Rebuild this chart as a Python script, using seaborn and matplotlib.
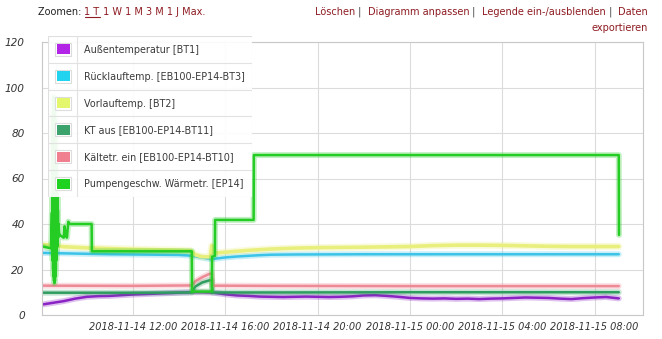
import numpy as np
import pandas as pd
import seaborn as sns
import matplotlib
matplotlib.use("Agg")
import matplotlib.pyplot as plt
import matplotlib.dates as mdates
import matplotlib.patheffects as pe
from matplotlib.patches import Rectangle

# ---------------- data (hours since 2018-11-14 00:00) ----------------
series_names = ["Außentemperatur [BT1]", "Rücklauftemp. [EB100-EP14-BT3]", "Vorlauftemp. [BT2]",
                "KT aus [EB100-EP14-BT11]", "Kältetr. ein [EB100-EP14-BT10]",
                "Pumpengeschw. Wärmetr. [EP14]"]

aussen_h = [8.06, 8.5, 9.0, 9.5, 10.0, 10.5, 11.0, 11.5, 12.0, 12.5, 13.0, 13.5, 14.0, 14.5, 15.0,
            15.5, 16.0, 16.5, 17.0, 17.5, 18.0, 18.5, 19.0, 19.5, 20.0, 20.5, 21.0, 21.5, 22.0,
            22.5, 23.0, 23.5, 24.0, 24.5, 25.0, 25.5, 26.0, 26.5, 27.0, 27.5, 28.0, 28.5, 29.0,
            29.5, 30.0, 30.5, 31.0, 31.5, 32.0, 32.5, 33.05]
aussen_v = [4.6, 5.3, 6.1, 7.2, 8.0, 8.3, 8.4, 8.7, 9.0, 9.2, 9.4, 9.6, 9.8, 10.0, 10.0,
            9.8, 9.1, 8.6, 8.4, 8.1, 8.0, 7.9, 8.0, 8.1, 8.0, 7.9, 8.0, 8.2, 8.6,
            8.7, 8.4, 8.0, 7.5, 7.3, 7.2, 7.3, 7.1, 7.2, 7.0, 7.2, 7.3, 7.5, 7.7,
            7.6, 7.5, 7.2, 7.0, 7.4, 7.7, 7.9, 7.3]

rueck_h = [8.06, 9.0, 10.0, 11.0, 12.0, 13.0, 14.0, 14.5, 15.0, 15.4, 15.6, 16.0, 16.5, 17.0,
           17.5, 18.0, 19.0, 22.0, 26.0, 30.0, 33.05]
rueck_v = [27.3, 27.1, 26.9, 26.7, 26.6, 26.5, 26.4, 26.1, 25.2, 24.5, 24.8, 25.3, 25.7, 26.0,
           26.3, 26.5, 26.6, 26.7, 26.7, 26.7, 26.7]

vorlauf_h = [8.06, 8.5, 9.0, 10.0, 11.0, 12.0, 13.0, 14.0, 14.5, 14.7, 15.0, 15.35, 15.42, 15.5,
             16.0, 16.5, 17.0, 18.0, 19.0, 20.0, 22.0, 24.0, 25.0, 26.0, 27.0, 28.0, 29.0,
             30.0, 31.0, 32.0, 33.05]
vorlauf_v = [31.0, 30.6, 30.0, 29.5, 29.2, 28.9, 28.7, 28.5, 28.3, 26.5, 25.6, 25.6, 30.5, 27.2,
             27.6, 28.0, 28.4, 29.0, 29.4, 29.6, 29.8, 30.1, 30.5, 30.7, 30.7, 30.6, 30.4,
             30.2, 30.1, 30.1, 30.1]

kt_h = [8.06, 12.0, 14.55, 14.7, 15.0, 15.3, 15.42, 15.45, 18.0, 24.0, 33.05]
kt_v = [9.8, 9.8, 9.9, 12.5, 14.3, 15.2, 15.3, 9.9, 9.9, 10.0, 10.0]

kaelte_h = [8.06, 12.0, 14.55, 14.7, 15.0, 15.3, 15.42, 15.45, 18.0, 24.0, 33.05]
kaelte_v = [12.9, 12.8, 13.0, 14.8, 16.6, 18.0, 18.3, 12.9, 12.8, 12.7, 12.7]

pump_h = [8.06, 8.45, 8.49, 8.50, 8.51, 8.52, 8.53, 8.54, 8.55, 8.56, 8.57, 8.58, 8.59, 8.60,
          8.61, 8.62, 8.63, 8.64, 8.65, 8.66, 8.67, 8.68, 8.69, 8.70, 8.71, 8.72, 8.73, 8.74,
          8.75, 8.76, 8.78, 8.80, 8.85, 9.00, 9.04, 9.08, 9.14, 9.20, 9.26, 10.21, 10.22, 14.55,
          14.56, 15.42, 15.43, 15.55, 15.56, 17.23, 17.24, 33.05, 33.06]
pump_v = [30.2, 29.3, 45.0, 28.0, 70.0, 24.0, 88.0, 20.0, 95.0, 17.0, 96.0, 15.0, 94.0, 14.0,
          90.0, 15.0, 86.0, 17.0, 80.0, 20.0, 72.0, 24.0, 64.0, 28.0, 58.0, 30.0, 52.0, 32.0,
          46.0, 34.0, 40.0, 36.0, 35.0, 34.0, 39.0, 35.0, 34.0, 41.0, 40.0, 40.0, 28.0, 28.0,
          10.3, 10.3, 25.6, 26.0, 41.8, 41.8, 70.3, 70.3, 35.2]

series_h = [aussen_h, rueck_h, vorlauf_h, kt_h, kaelte_h, pump_h]
series_v = [aussen_v, rueck_v, vorlauf_v, kt_v, kaelte_v, pump_v]

line_colors = ["#8a22c4", "#3cc4e8", "#e9ef7c", "#2f9d60", "#ee8a96", "#24cc24"]
swatch_colors = ["#b224e6", "#22d3f0", "#e4f66c", "#3ca36c", "#f0808f", "#1fd21f"]

y_ticks = [0, 20, 40, 60, 80, 100, 120]
x_tick_labels = ["2018-11-14 12:00", "2018-11-14 16:00", "2018-11-14 20:00",
                 "2018-11-15 00:00", "2018-11-15 04:00", "2018-11-15 08:00"]

base = pd.Timestamp("2018-11-14 00:00")
frames = []
for name, hh, vv in zip(series_names, series_h, series_v):
    frames.append(pd.DataFrame({"time": base + pd.to_timedelta(hh, unit="h"),
                                "value": vv, "series": name}))

# ---------------- figure ----------------
sns.set_style("white")
plt.rcParams["font.family"] = ["DejaVu Sans"]

W, H = 662, 339
fig = plt.figure(figsize=(W / 100, H / 100), dpi=100)
ax = fig.add_axes([42 / W, 1 - 315 / H, (643 - 42) / W, (315 - 42) / H])

for df, col in zip(frames, line_colors):
    lw = 2.6 if col == "#e9ef7c" else 1.8
    sns.lineplot(data=df, x="time", y="value", ax=ax, color=col, linewidth=lw,
                 estimator=None, sort=False, legend=False,
                 path_effects=[pe.Stroke(linewidth=lw + 2.5, foreground=col, alpha=0.28), pe.Normal()])

ax.set_ylim(0, 120)
ax.set_xlim(base + pd.Timedelta(hours=8.06), base + pd.Timedelta(hours=34.1))
ax.set_yticks(y_ticks)
ax.set_yticklabels([str(t) for t in y_ticks], fontstyle="italic", fontsize=7.6, color="#333333")
xt = [pd.Timestamp(s) for s in x_tick_labels]
ax.set_xticks(xt)
ax.set_xticklabels(x_tick_labels, fontstyle="italic", fontsize=7, color="#333333")
ax.tick_params(axis="y", length=0, pad=12.5)
ax.tick_params(axis="x", length=0, pad=5)
ax.set_xlabel("")
ax.set_ylabel("")
ax.grid(True, color="#dcdcdc", linewidth=0.8)
ax.set_axisbelow(True)
for s in ax.spines.values():
    s.set_color("#c8c8c8")
    s.set_linewidth(0.8)

# ---------------- legend box (figure coordinates, pixels) ----------------
lx0, lx1, ly0, ly1 = 48, 252, 36, 197
lax = fig.add_axes([lx0 / W, 1 - ly1 / H, (lx1 - lx0) / W, (ly1 - ly0) / H])
lax.set_xlim(0, lx1 - lx0)
lax.set_ylim(ly1 - ly0, 0)
lax.axis("off")
lw_ = lx1 - lx0
lh_ = ly1 - ly0
lax.add_patch(Rectangle((0, 0), lw_, lh_, facecolor="white", alpha=0.93, edgecolor="#dddddd", linewidth=0.8))
row_h = lh_ / len(series_names)
lax.plot([29, 29], [0, lh_], color="#e2e2e2", linewidth=0.8)
for i, (name, sc) in enumerate(zip(series_names, swatch_colors)):
    y0 = i * row_h
    if i > 0:
        lax.plot([0, lw_], [y0, y0], color="#e2e2e2", linewidth=0.8)
    lax.add_patch(Rectangle((7, y0 + row_h / 2 - 6.5), 16, 13, facecolor="white", edgecolor="#dddddd", linewidth=0.8))
    lax.add_patch(Rectangle((8.5, y0 + row_h / 2 - 5), 13, 10, facecolor=sc, edgecolor="none"))
    lax.text(36, y0 + row_h / 2 + 0.5, name, fontsize=6.9, color="#3a3a3a", va="center", ha="left")

# ---------------- header links ----------------
link = "#8e1b22"
fig.canvas.draw()
renderer = fig.canvas.get_renderer()

def put_seq(pieces, x_px, y_px, fs=7.0, align="left", underline_idx=None):
    texts = []
    for s, c in pieces:
        t = fig.text(0, 0, s, fontsize=fs, color=c, va="center", ha="left")
        texts.append(t)
    widths = [t.get_window_extent(renderer).width for t in texts]
    total = sum(widths)
    x = x_px if align == "left" else x_px - total
    for i, (t, w) in enumerate(zip(texts, widths)):
        t.set_position((x / W, 1 - y_px / H))
        if underline_idx is not None and i == underline_idx:
            fig.add_artist(plt.Line2D([x / W, (x + w) / W], [1 - (y_px + 5) / H] * 2,
                                      color=t.get_color(), linewidth=0.8))
        x += w

put_seq([("Zoomen: ", "#222222"), ("1 T", link), (" 1 W 1 M 3 M 1 J Max.", link)], 38, 12,
        underline_idx=1)
put_seq([("Löschen", link), (" |  ", "#333333"), ("Diagramm anpassen", link), (" |  ", "#333333"),
         ("Legende ein-/ausblenden", link), (" |  ", "#333333"), ("Daten", link)], 648, 12, align="right")
put_seq([("exportieren", link)], 648, 28, align="right")

fig.savefig("out.png", dpi=100)
